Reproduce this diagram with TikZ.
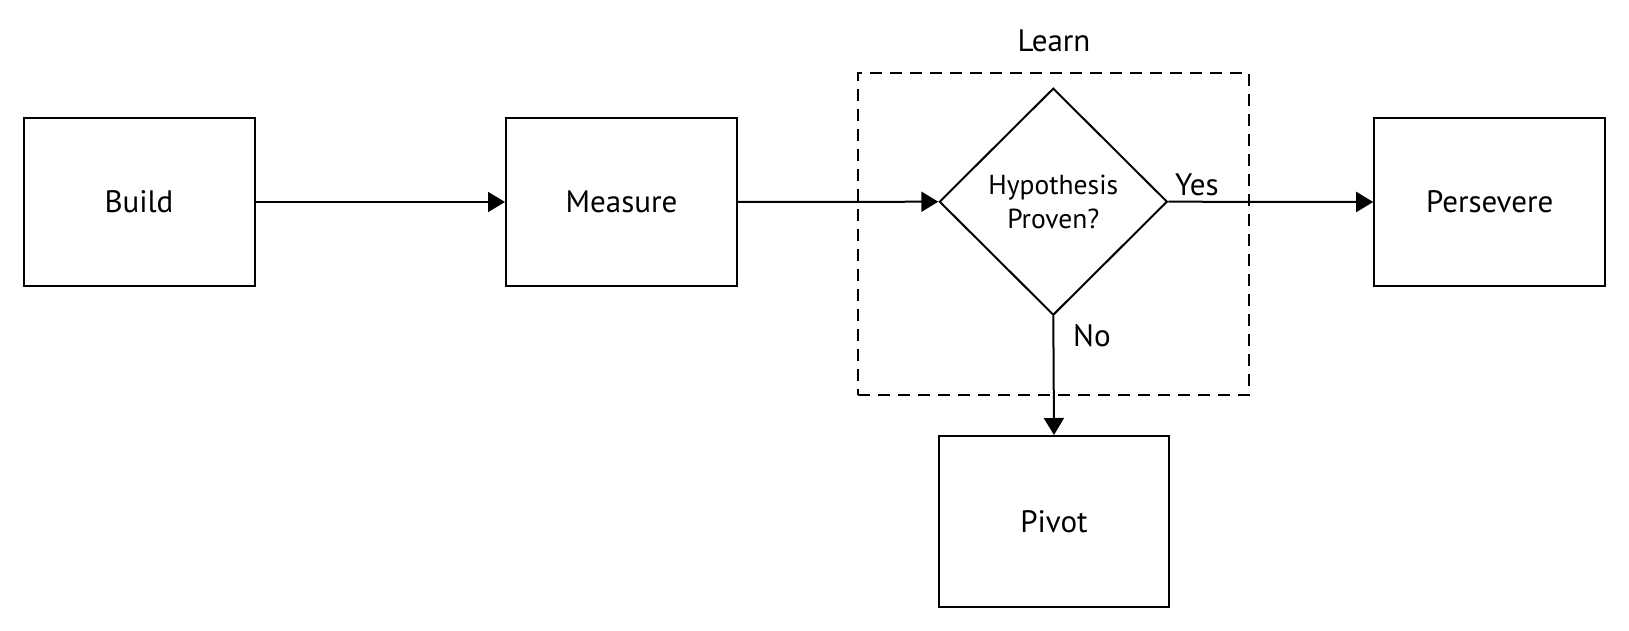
\documentclass[tikz,border=0pt]{standalone}
\usepackage{fontspec}
\setmainfont{PT Sans}
\usetikzlibrary{shapes.geometric,arrows.meta}
\begin{document}
\begin{tikzpicture}[x=1pt,y=-1pt,
  stepbox/.style={draw=black,line width=2pt,rectangle,inner sep=0pt,minimum width=231pt,minimum height=168pt,font=\fontsize{31}{37}\selectfont},
  decision/.style={draw=black,line width=2pt,diamond,inner sep=0pt,minimum width=228pt,minimum height=227pt,align=center,font=\fontsize{27.5}{34}\selectfont},
  flow/.style={line width=2pt,-{Triangle[length=17pt,width=20pt]}},
  lbl/.style={font=\fontsize{31}{37}\selectfont,inner sep=0pt},
  group/.style={draw=black,line width=2pt,dash pattern=on 12pt off 8pt,rectangle,inner sep=0pt}]
\useasboundingbox[fill=white] (0,0) rectangle (1629,631);
\node[group,minimum width=390.7pt,minimum height=322.3pt] (learnbox) at (1053.6,233.8) {};
\node[lbl,anchor=base] (learn) at (1054,51.7) {Learn};
\node[stepbox] (build) at (139,202) {Build};
\node[stepbox] (measure) at (621.5,202) {Measure};
\node[decision] (hyp) at (1053.3,201.7) {Hypothesis\\Proven?};
\node[stepbox] (persevere) at (1489.7,202) {Persevere};
\node[stepbox,minimum width=230pt,minimum height=171pt] (pivot) at (1054,521.5) {Pivot};
\node[lbl,anchor=base west] (yes) at (1175,196) {Yes};
\node[lbl,anchor=base west] (no) at (1073,346) {No};
\draw[flow] (build.east) -- (measure.west);
\draw[flow] (measure.east) -- (hyp.west);
\draw[flow] (hyp.east) -- (persevere.west);
\draw[flow] (hyp.south) -- (pivot.north);
\end{tikzpicture}
\end{document}
